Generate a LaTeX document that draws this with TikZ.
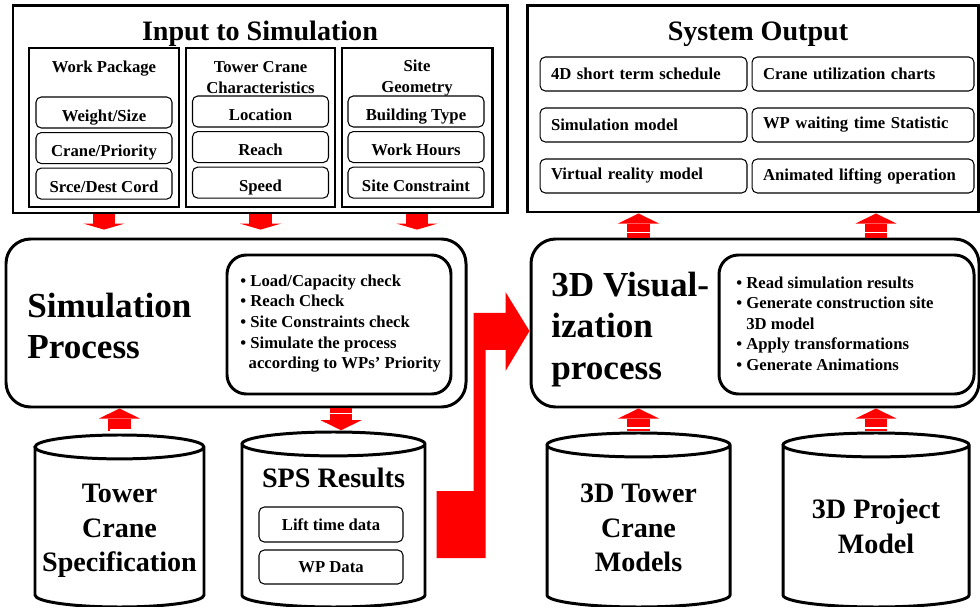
\documentclass[tikz,border=0pt]{standalone}
\usepackage{fontspec}
\setmainfont{Liberation Serif}
\usepackage{tikz}
\usetikzlibrary{arrows.meta,positioning,calc,decorations.markings}
% outline of a data store round a node
\newcommand\drum[1]{\draw[line width=1.7pt] let \p1=(#1.north west), \p2=(#1.south east) in
  (\x1,\y1-6.8pt) -- (\x1,\y2+6.8pt) arc[start angle=180, end angle=360, x radius={0.5*\x2-0.5*\x1}, y radius=6.8pt]
  -- (\x2,\y1-6.8pt) arc[start angle=0, end angle=360, x radius={0.5*\x2-0.5*\x1}, y radius=6.8pt];}

\begin{document}
\begin{tikzpicture}[x=0.02cm, y=-0.02cm, every node/.style={font=\bfseries},
  sz/.style 2 args={minimum width=#1*0.02cm, minimum height=#2*0.02cm},
  frame/.style={draw, line width=1.7pt, inner sep=0pt},
  procbox/.style={draw, line width=1.7pt, rounded corners=14pt, inner sep=0pt},
  listbox/.style={draw, line width=1.7pt, rounded corners=11pt, inner sep=0pt},
  db/.style={inner sep=0pt, outer sep=0pt},
  cell/.style={draw, line width=0.6pt, rounded corners=3pt, sz={136}{31}, font=\bfseries\fontsize{9.5}{11.5}\selectfont},
  incell/.style={cell, text height=9.7pt, text depth=0pt},
  obox/.style={draw, line width=0.6pt, rounded corners=3pt, minimum height=34*0.02cm, inner xsep=0.22cm, text width=#1, align=left, font=\bfseries\fontsize{9.5}{11.5}\selectfont},
  ttl/.style={inner sep=0pt, font=\bfseries\fontsize{16}{19.5}\selectfont, align=center},
  hdr/.style={inner sep=0pt, font=\bfseries\fontsize{9.5}{12}\selectfont, align=center},
  big/.style={inner sep=0pt, anchor=west, font=\bfseries\fontsize{20}{23.5}\selectfont, align=left},
  lst/.style={inner sep=0pt, anchor=west, font=\bfseries\fontsize{9.5}{11.7}\selectfont, align=left},
  blk/.style={draw=red, line width=13pt, -{Triangle[width=23.3pt, length=#1, line width=0pt]}},
  blk/.default=5.7pt,
  stripe/.style={postaction={decorate, decoration={markings, mark=at position 0.1cm with {\draw[-, white, line width=0.7pt] (0,-13) -- (0,13);}}}}]
\useasboundingbox (0,0) rectangle (980,607);

% input to simulation
\node[frame, sz={494}{207}] (inp) at (260,109.5) {};
\node[ttl] (inpt) at (260,34) {Input to Simulation};
\node[frame, sz={150}{159}] (wp) at (104,127.5) {};
\node[frame, sz={149}{159}] (tc) at (260.5,127.5) {};
\node[frame, sz={150}{159}] (sg) at (417,127.5) {};
\node[hdr] (wph) at (104,68.5) {Work Package};
\node[hdr] (tch) at (260.5,78) {Tower Crane\\Characteristics};
\node[hdr] (sgh) at (417,78) {Site\\Geometry};
\node[incell] (wp1) at (104,112.5) {Weight/Size};
\node[incell, below=0.07cm of wp1] (wp2) {Crane/Priority};
\node[incell, below=0.07cm of wp2] (wp3) {Srce/Dest Cord};
\node[incell] (tc1) at (260.5,111.5) {Location};
\node[incell, below=0.07cm of tc1] (tc2) {Reach};
\node[incell, below=0.07cm of tc2] (tc3) {Speed};
\node[incell] (sg1) at (416,111.5) {Building Type};
\node[incell, below=0.07cm of sg1] (sg2) {Work Hours};
\node[incell, below=0.07cm of sg2] (sg3) {Site Constraint};

% system output
\node[frame, sz={451}{206}] (out) at (752.5,109) {};
\node[ttl] (outt) at (758,34) {System Output};
\node[obox=3.7cm] (o1) at (643.5,74) {4D short term schedule};
\node[obox=3.7cm] (o3) at (643.5,125) {Simulation model};
\node[obox=3.7cm] (o5) at (643.5,176) {Virtual reality model};
\node[obox=4.0cm] (o2) at (863,74) {Crane utilization charts};
\node[obox=4.0cm] (o4) at (863,125) {WP waiting time Statistic};
\node[obox=4.0cm] (o6) at (863,176) {Animated lifting operation};

% processes
\node[procbox, sz={460}{168}] (sim) at (236,323) {};
\node[listbox, sz={224}{139}] (simlist) at (339,324.5) {};
\node[big] (simt) at (27,326) {Simulation\\Process};
\node[lst] (simtxt) at (240,323.5) {\textbullet\ Load/Capacity check\\ \textbullet\ Reach Check\\ \textbullet\ Site Constraints check\\ \textbullet\ Simulate the process\\ \hspace*{0.5em}according to WPs’ Priority};
\node[procbox, sz={448}{168}] (viz) at (755,323) {};
\node[listbox, sz={255}{139}] (vizlist) at (846.5,324.5) {};
\node[big] (vizt) at (551,329.5) {3D Visual-\\ization\\process};
\node[lst] (viztxt) at (736,323.5) {\textbullet\ Read simulation results\\ \textbullet\ Generate construction site\\ \hspace*{0.6em}3D model\\ \textbullet\ Apply transformations\\ \textbullet\ Generate Animations};

% data stores
\node[db, sz={169}{172}] (tcs) at (119.5,521) {};
\node[db, sz={183}{175}] (sps) at (333.5,519.5) {};
\node[db, sz={183}{174}] (tcm) at (638.5,520) {};
\node[db, sz={186}{174}] (pm) at (876,520) {};
\drum{tcs} \drum{sps} \drum{tcm} \drum{pm}
\node[ttl] (tcst) at (119.5,531) {Tower\\Crane\\Specification};
\node[ttl] (spst) at (333.5,478) {SPS Results};
\node[cell, sz={144}{35}] (lift) at (331,524.5) {Lift time data};
\node[cell, sz={144}{34}] (wpd) at (331,567) {WP Data};
\node[ttl] (tcmt) at (638.5,528) {3D Tower\\Crane\\Models};
\node[ttl] (pmt) at (876,526.5) {3D Project\\Model};
\coordinate (spsin) at ([xshift=4.3pt]sps.north);

% block arrows
\draw[blk=3.4pt, shorten >=4.5pt] (wp |- inp.south) -- (wp |- sim.north);
\draw[blk=3.4pt, shorten >=4.5pt] (tc |- inp.south) -- (tc |- sim.north);
\draw[blk=3.4pt, shorten >=4.5pt] (sg |- inp.south) -- (sg |- sim.north);
\draw[blk, stripe, shorten <=2pt] (tcs.north) -- (tcs |- sim.south);
\draw[blk, stripe, shorten >=1pt] (spsin |- sim.south) -- (spsin);
\draw[blk, stripe, shorten <=1pt] (tcm.north) -- (tcm |- viz.south);
\draw[blk, stripe, shorten <=1pt] (pm.north) -- (pm |- viz.south);
\draw[blk, stripe] (tcm |- viz.north) -- (tcm |- out.south);
\draw[blk, stripe] (pm |- viz.north) -- (pm |- out.south);
\fill[red] (viz.west) ++(0,8) -- ++(-24,40) -- ++(0,-21) -- ++(-20,0) -- ++(0,208) -- ++(-49,0) -- ++(0,-67) -- ++(37,0) -- ++(0,-178) -- ++(32,0) -- ++(0,-21) -- cycle;
\end{tikzpicture}
\end{document}
